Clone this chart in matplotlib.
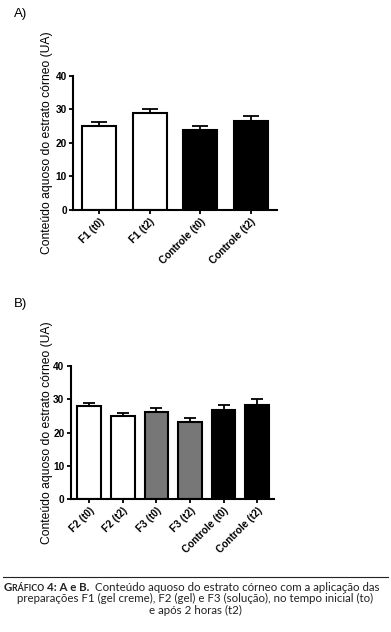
# Gráfico 4: conteúdo aquoso do estrato córneo (painéis A e B)

import matplotlib
matplotlib.use('Agg')
import matplotlib.pyplot as plt

plt.rcParams['font.family'] = ['Liberation Sans', 'DejaVu Sans']

# Dados painel A
rotulos_a = ['F1 (t0)', 'F1 (t2)', 'Controle (t0)', 'Controle (t2)']
medias_a = [25.0, 29.0, 23.7, 26.4]
erros_a = [1.3, 1.2, 1.2, 1.7]
cores_a = ['white', 'white', 'black', 'black']

# Dados painel B
rotulos_b = ['F2 (t0)', 'F2 (t2)', 'F3 (t0)', 'F3 (t2)', 'Controle (t0)', 'Controle (t2)']
medias_b = [28.0, 25.0, 26.1, 23.1, 26.9, 28.3]
erros_b = [0.9, 1.0, 1.4, 1.3, 1.4, 1.8]
cores_b = ['white', 'white', '#777777', '#777777', 'black', 'black']

yticks = [0, 10, 20, 30, 40]
ylabel = 'Conteúdo aquoso do estrato córneo (UA)'

fig = plt.figure(figsize=(3.91, 6.32), dpi=100)
W, H = 391, 632


def painel(ret, rotulos, medias, erros, cores, largura, cap, xlim, xlab):
    ax = fig.add_axes(ret)
    x = range(len(rotulos))
    ax.bar(x, medias, width=largura, color=cores, edgecolor='black',
           linewidth=1.5, zorder=2)
    ax.errorbar(x, medias, yerr=[[0] * len(erros), erros], fmt='none',
                ecolor='black', elinewidth=1.3, capsize=cap, capthick=1.3, zorder=1)
    ax.set_xlim(*xlim)
    ax.set_ylim(0, 40)
    ax.set_yticks(yticks)
    ax.set_xticks(list(x))
    ax.set_xticklabels(rotulos, rotation=45, ha='right', rotation_mode='anchor',
                       fontsize=7.3, fontweight='bold')
    for lbl in ax.get_yticklabels():
        lbl.set_fontsize(7.3)
        lbl.set_fontweight('bold')
    ax.tick_params(axis='both', width=1.3, length=3, pad=1.5)
    for s in ['top', 'right']:
        ax.spines[s].set_visible(False)
    for s in ['left', 'bottom']:
        ax.spines[s].set_linewidth(1.5)
    ax.set_ylabel(ylabel, fontsize=8.7)
    ax.yaxis.set_label_coords(xlab, 0.5)
    return ax


painel([73 / W, 1 - 210 / H, (277 - 73) / W, (210 - 75.7) / H],
       rotulos_a, medias_a, erros_a, cores_a, 0.67, 6, (-0.52, 3.52), -0.098)
painel([70.7 / W, 1 - 499.3 / H, (274 - 70.7) / W, (499.3 - 366) / H],
       rotulos_b, medias_b, erros_b, cores_b, 0.7, 4.4, (-0.55, 5.5), -0.087)

fig.text(14 / W, 1 - 14 / H, 'A)', fontsize=9.5, va='center')
fig.text(14 / W, 1 - 304 / H, 'B)', fontsize=9.5, va='center')

# Legenda
fig.add_artist(plt.Line2D([3 / W, 388 / W], [1 - 577 / H, 1 - 577 / H],
                          color='#222222', linewidth=0.8))

fonte = 'Lato'
tam = 8.3
fig.canvas.draw()
r = fig.canvas.get_renderer()


def encadear(x, y, partes):
    for txt, t_, peso in partes:
        t = fig.text(x / W, 1 - y / H, txt, fontsize=t_, fontweight=peso,
                     family=fonte, va='baseline', color='#222222')
        x += t.get_window_extent(renderer=r).width


encadear(4, 591, [('G', tam, 'bold'), ('RÁFICO ', tam * 0.76, 'bold'),
                  ('4: A e B.', tam, 'bold'),
                  ('  Conteúdo aquoso do estrato córneo com a aplicação das', tam, 'normal')])
fig.text(0.5, 1 - 602.5 / H,
         'preparações F1 (gel creme), F2 (gel) e F3 (solução), no tempo inicial (to)',
         fontsize=tam, family=fonte, ha='center', va='baseline', color='#222222')
fig.text(0.5, 1 - 614 / H, 'e após 2 horas (t2)', fontsize=tam, family=fonte,
         ha='center', va='baseline', color='#222222')

fig.savefig('out.png', dpi=100)
